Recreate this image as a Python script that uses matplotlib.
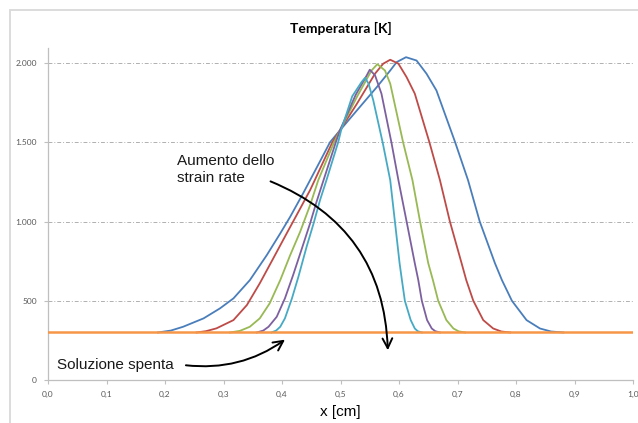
import matplotlib
matplotlib.use("Agg")
import matplotlib.pyplot as plt
from matplotlib.patches import FancyArrowPatch, Rectangle

# dati: x [cm], T [K]
x_blu = [0.188, 0.21, 0.231, 0.266, 0.294, 0.317, 0.345, 0.374, 0.397, 0.414, 0.436, 0.448, 0.465,
         0.482, 0.499, 0.528, 0.562, 0.585, 0.596, 0.612, 0.630, 0.647, 0.664, 0.696, 0.718, 0.738,
         0.764, 0.776, 0.793, 0.818, 0.841, 0.86, 0.881]
t_blu = [300, 312, 336, 389, 452, 515, 630, 788, 925, 1030, 1177, 1261, 1380,
         1500, 1575, 1701, 1848, 1953, 2006, 2037, 2016, 1933, 1827, 1500, 1261, 1000,
         737, 630, 500, 378, 325, 306, 300]

x_rosso = [0.254, 0.27, 0.288, 0.317, 0.340, 0.362, 0.385, 0.408, 0.428, 0.448, 0.456, 0.486,
           0.499, 0.528, 0.559, 0.573, 0.585, 0.599, 0.613, 0.627, 0.652, 0.670, 0.687, 0.707,
           0.715, 0.727, 0.744, 0.761, 0.775, 0.790]
t_rosso = [300, 308, 326, 378, 473, 610, 767, 925, 1061, 1198, 1261, 1500,
           1575, 1743, 1933, 1996, 2021, 1996, 1911, 1807, 1500, 1261, 1000, 737,
           630, 500, 378, 325, 306, 300]

x_verde = [0.311, 0.328, 0.345, 0.362, 0.379, 0.397, 0.414, 0.431, 0.448, 0.462, 0.489, 0.499,
           0.528, 0.553, 0.563, 0.576, 0.585, 0.607, 0.623, 0.636, 0.650, 0.658, 0.667, 0.681,
           0.693, 0.702, 0.713]
t_verde = [300, 310, 336, 389, 484, 630, 788, 935, 1103, 1261, 1500, 1575,
           1786, 1953, 1993, 1953, 1870, 1500, 1261, 1000, 737, 630, 500, 378,
           325, 307, 300]

x_viola = [0.357, 0.368, 0.377, 0.391, 0.405, 0.419, 0.434, 0.448, 0.459, 0.471, 0.492, 0.499,
           0.526, 0.545, 0.550, 0.559, 0.570, 0.587, 0.599, 0.613, 0.627, 0.633, 0.639, 0.648,
           0.656, 0.662, 0.670]
t_viola = [300, 312, 336, 399, 515, 662, 830, 988, 1124, 1261, 1500, 1575,
           1800, 1923, 1958, 1923, 1807, 1500, 1261, 1000, 737, 630, 500, 378,
           325, 308, 300]

x_ciano = [0.382, 0.390, 0.397, 0.405, 0.417, 0.428, 0.442, 0.454, 0.465, 0.476, 0.496, 0.501,
           0.520, 0.536, 0.542, 0.548, 0.556, 0.572, 0.585, 0.593, 0.601, 0.605, 0.610, 0.620,
           0.627, 0.632, 0.639]
t_ciano = [300, 312, 336, 389, 515, 651, 840, 988, 1135, 1261, 1500, 1575,
           1790, 1880, 1907, 1870, 1765, 1500, 1261, 1000, 737, 630, 500, 378,
           325, 308, 300]

x_spenta = [0.0, 1.0]
t_spenta = [300, 300]

serie = [(x_blu, t_blu, '#4A7EBB'),
         (x_rosso, t_rosso, '#BE4B48'),
         (x_verde, t_verde, '#98B954'),
         (x_viola, t_viola, '#7D60A0'),
         (x_ciano, t_ciano, '#46AAC5')]

x_ticks = [0.0, 0.1, 0.2, 0.3, 0.4, 0.5, 0.6, 0.7, 0.8, 0.9, 1.0]
x_tick_labels = ['0,0', '0,1', '0,2', '0,3', '0,4', '0,5', '0,6', '0,7', '0,8', '0,9', '1,0']
y_ticks = [0, 500, 1000, 1500, 2000]
y_tick_labels = ['0', '500', '1.000', '1.500', '2.000']

fig = plt.figure(figsize=(6.38, 4.23), dpi=100)
fig.patches.append(Rectangle((10/638, -0.05), 1.1, 1 - 10/423 + 0.05, transform=fig.transFigure,
                             fill=False, edgecolor='#d9d9d9', linewidth=1.3))
ax = fig.add_axes([48/638, 1 - 380/423, 585/638, 332/423])

for xs, ts, col in serie:
    ax.plot(xs, ts, color=col, lw=1.3, zorder=3, solid_joinstyle='round')
ax.plot(x_spenta, t_spenta, color='#F79646', lw=1.8, zorder=4)

ax.set_xlim(0, 1.0)
ax.set_ylim(0, 2095)
ax.set_xticks(x_ticks)
ax.set_xticklabels(x_tick_labels)
ax.set_yticks(y_ticks)
ax.set_yticklabels(y_tick_labels)
for lab in ax.get_xticklabels() + ax.get_yticklabels():
    lab.set_fontfamily('Lato')
    lab.set_fontsize(6)
    lab.set_color('#595959')
ax.tick_params(axis='both', length=3, width=0.8, color='#bfbfbf', pad=5)

for v in y_ticks[1:]:
    ax.axhline(v, color='#b0b0b0', lw=0.7, ls=(0, (4, 2, 1, 2)), zorder=1)

for s in ['top', 'right']:
    ax.spines[s].set_visible(False)
for s in ['left', 'bottom']:
    ax.spines[s].set_color('#bfbfbf')
    ax.spines[s].set_linewidth(0.9)

ax.set_title('Temperatura [K]', fontfamily='Lato', fontweight='bold', fontsize=10, pad=11)
ax.set_xlabel('x [cm]', fontfamily='Liberation Sans', fontsize=11, labelpad=5)

ax.text(0.221, 1230, 'Aumento dello\nstrain rate', fontfamily='Liberation Sans', fontsize=11,
        color='#1a1a1a', linespacing=1.3, va='bottom')
ax.text(0.016, 50, 'Soluzione spenta', fontfamily='Liberation Sans', fontsize=11,
        color='#1a1a1a', va='bottom')

ax.add_patch(FancyArrowPatch((0.376, 1260), (0.581, 170), connectionstyle='arc3,rad=-0.33',
                             arrowstyle='->,head_length=7,head_width=3.5', color='black', lw=1.4,
                             zorder=5))
ax.add_patch(FancyArrowPatch((0.231, 95), (0.409, 265), connectionstyle='arc3,rad=0.2',
                             arrowstyle='->,head_length=7,head_width=3.5', color='black', lw=1.4,
                             zorder=5))

fig.savefig('out.png', dpi=100)
